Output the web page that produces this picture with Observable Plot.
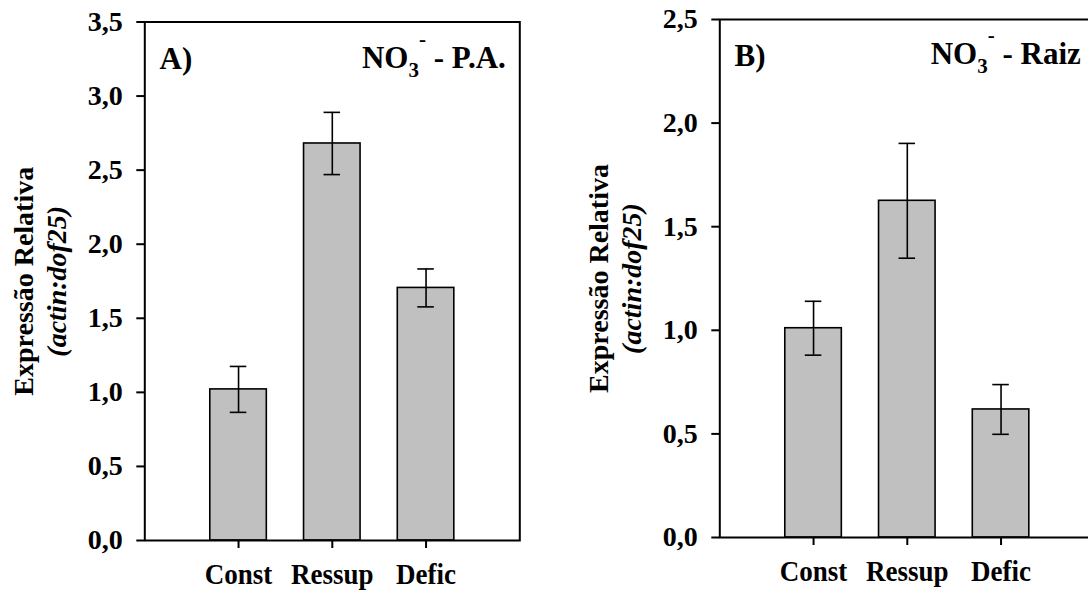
<!DOCTYPE html>
<html>
<head>
<meta charset="utf-8">
<script src="https://cdn.jsdelivr.net/npm/d3@7"></script>
<script src="https://cdn.jsdelivr.net/npm/@observablehq/plot@0.6"></script>
<style>
  html, body { margin: 0; padding: 0; background: #fff; }
  #wrap { width: 1088px; height: 591px; overflow: hidden; display: flex; position: relative; }
  #wrap svg { display: block; flex: none; }
  text { white-space: pre; }
</style>
</head>
<body>
<div id="wrap"></div>
<script>
// ---- data ----
const categories = ["Const", "Ressup", "Defic"];
const valuesA = [1.02, 2.68, 1.705];
const errorsA = [0.155, 0.21, 0.128];
const valuesB = [1.01, 1.625, 0.618];
const errorsB = [0.13, 0.277, 0.12];
const yTicksA = [0, 0.5, 1.0, 1.5, 2.0, 2.5, 3.0, 3.5];
const yTicksB = [0, 0.5, 1.0, 1.5, 2.0, 2.5];
const panelLabels = ["A)", "B)"];
const titleRest = ["- P.A.", "- Raiz"];
const yTitle1 = "Expressão Relativa";
const yTitle2 = "(actin:dof25)";

const FONT = "'Liberation Serif', 'Times New Roman', serif";

function panel({values, errors, ticks, label, rest, marginTop, bottomY, titleDy}) {
  const data = categories.map((c, i) => ({cat: c, value: values[i], err: errors[i]}));
  const W = 575, H = 591;
  const mL = 144.3, plotW = 375;
  const chart = Plot.plot({
    width: W,
    height: H,
    marginLeft: mL,
    marginRight: W - mL - plotW,
    marginTop: marginTop,
    marginBottom: H - bottomY,
    style: {fontFamily: FONT, fontWeight: "bold", background: "white", color: "black", overflow: "visible"},
    x: {type: "band", domain: categories, paddingInner: 0.397, paddingOuter: 0.6985, align: 0.5, round: false},
    y: {domain: [0, ticks[ticks.length - 1]]},
    marks: [
      Plot.barY(data, {x: "cat", y: "value", fill: "#c0c0c0", stroke: "black", strokeWidth: 1.6}),
      Plot.ruleX(data, {x: "cat", y1: d => d.value - d.err, y2: d => d.value + d.err, stroke: "black", strokeWidth: 1.6}),
      Plot.tickY(data, {x: "cat", y: d => d.value + d.err, insetLeft: 20, insetRight: 20, stroke: "black", strokeWidth: 1.6}),
      Plot.tickY(data, {x: "cat", y: d => d.value - d.err, insetLeft: 20, insetRight: 20, stroke: "black", strokeWidth: 1.6}),
      Plot.frame({stroke: "black", strokeWidth: 2}),
      Plot.axisY({ticks: ticks, tickFormat: d => d.toFixed(1).replace(".", ","), tickSize: 8, tickPadding: 14,
        fontSize: 28, fontWeight: "bold", fontFamily: FONT, strokeWidth: 2, label: null}),
      Plot.axisX({tickSize: 8, tickPadding: 14, fontSize: 30, fontWeight: "bold", fontFamily: FONT, strokeWidth: 2, label: null}),
      Plot.text([label], {frameAnchor: "top-left", textAnchor: "start", lineAnchor: "bottom", dx: 14.7, dy: 46.5,
        fontSize: 31, fontWeight: "bold", fontFamily: FONT, fill: "black"}),
      Plot.text(["NO3- " + rest], {frameAnchor: "top-right", textAnchor: "end", lineAnchor: "bottom", dx: -14, dy: titleDy,
        fontSize: 31, fontWeight: "bold", fontFamily: FONT, fill: "black"}),
      Plot.text([yTitle1], {frameAnchor: "left", rotate: -90, textAnchor: "middle", lineAnchor: "bottom", dx: -112,
        fontSize: 28, fontWeight: "bold", fontFamily: FONT, fill: "black"}),
      Plot.text([yTitle2], {frameAnchor: "left", rotate: -90, textAnchor: "middle", lineAnchor: "bottom", dx: -78.5,
        fontSize: 28, fontWeight: "bold", fontStyle: "italic", fontFamily: FONT, fill: "black"})
    ]
  });
  const svg = d3.select(chart);
  // chemical formula with subscript / superscript
  svg.selectAll("text")
    .filter(function() { return this.textContent === "NO3- " + rest; })
    .each(function() {
      const t = d3.select(this);
      t.text(null);
      t.append("tspan").text("NO");
      t.append("tspan").attr("font-size", 21).attr("dy", 9.4).text("3");
      t.append("tspan").attr("font-size", 21).attr("dy", -31).text("-");
      t.append("tspan").attr("dy", 21.6).text(" " + rest);
    });
  // tall, slightly condensed category labels as in the reference
  svg.selectAll("text")
    .filter(function() { return categories.includes(this.textContent) && (this.getAttribute("transform") || "").startsWith("translate"); })
    .each(function() {
      this.setAttribute("transform", this.getAttribute("transform") + " scale(0.9,1)");
    });
  return chart;
}

const wrap = document.getElementById("wrap");
wrap.appendChild(panel({values: valuesA, errors: errorsA, ticks: yTicksA, label: panelLabels[0], rest: titleRest[0],
  marginTop: 21.5, bottomY: 540, titleDy: 46}));
wrap.appendChild(panel({values: valuesB, errors: errorsB, ticks: yTicksB, label: panelLabels[1], rest: titleRest[1],
  marginTop: 19, bottomY: 537, titleDy: 44.5}));
</script>
</body>
</html>
